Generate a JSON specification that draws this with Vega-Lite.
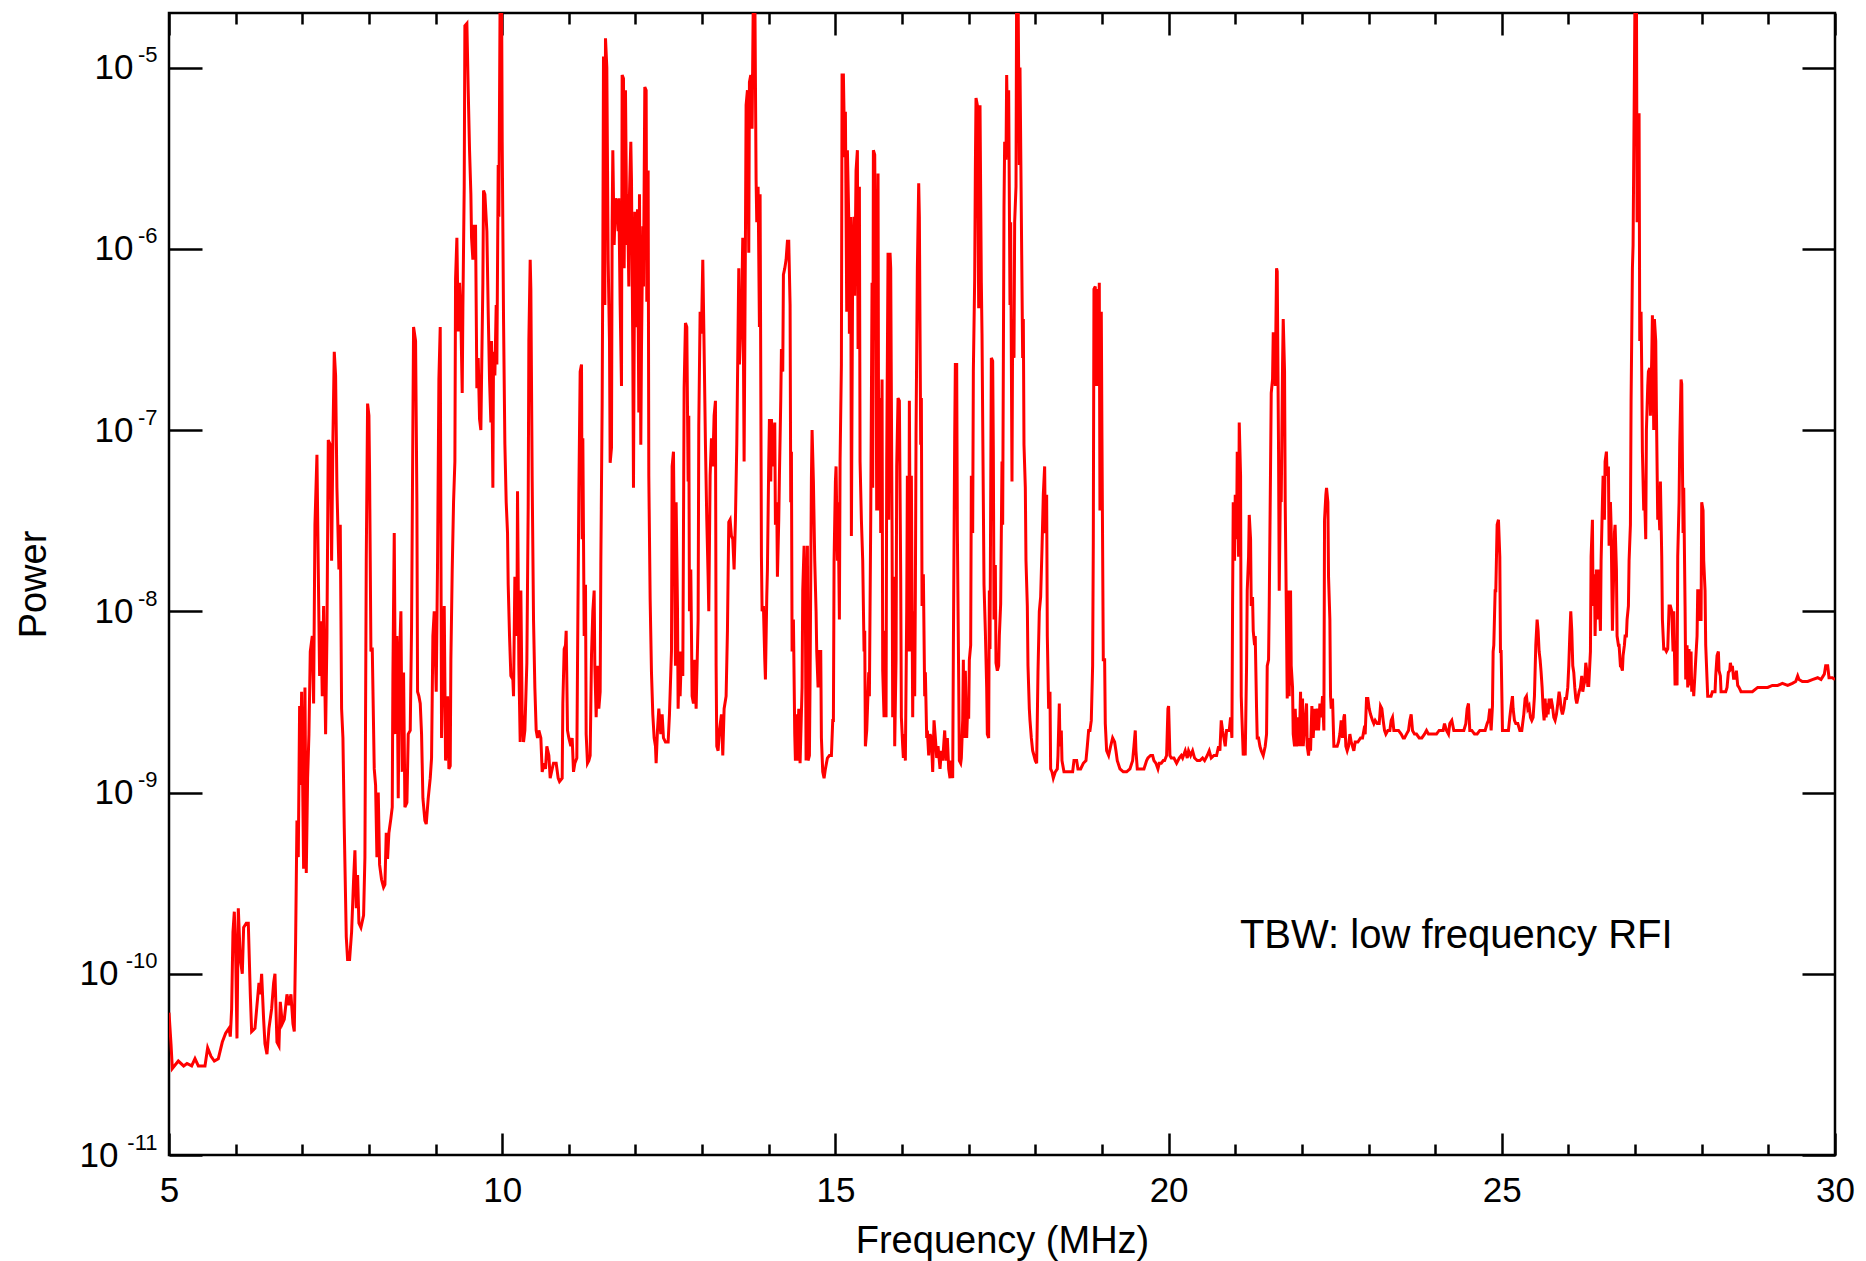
{
  "$schema": "https://vega.github.io/schema/vega-lite/v6.json",
  "autosize": {"type": "none"},
  "width": 1666,
  "height": 1142,
  "padding": {"left": 169, "top": 13, "right": 31, "bottom": 106},
  "background": "white",
  "config": {
    "view": {"stroke": "black", "strokeWidth": 2.5},
    "font": "Liberation Sans",
    "axis": {"grid": false, "domain": false, "tickColor": "black", "tickWidth": 2.5, "labelFont": "Liberation Sans", "titleFont": "Liberation Sans", "labelColor": "black", "titleColor": "black", "titleFontWeight": "normal", "labelFontSize": 35, "titleFontSize": 38}
  },
  "datasets": {
    "spectrum": [
      {"freq":5.00,"power":6.1e-11},{"freq":5.03,"power":4.1e-11},{"freq":5.05,"power":3.0e-11},{"freq":5.14,"power":3.3e-11},{"freq":5.22,"power":3.1e-11},{"freq":5.27,"power":3.2e-11},{"freq":5.34,"power":3.1e-11},{"freq":5.39,"power":3.4e-11},{"freq":5.44,"power":3.1e-11},{"freq":5.54,"power":3.1e-11},{"freq":5.58,"power":3.9e-11},{"freq":5.63,"power":3.5e-11},{"freq":5.68,"power":3.3e-11},{"freq":5.74,"power":3.4e-11},{"freq":5.80,"power":4.2e-11},{"freq":5.85,"power":4.7e-11},{"freq":5.90,"power":5.0e-11},{"freq":5.92,"power":4.5e-11},{"freq":5.94,"power":6.4e-11},{"freq":5.96,"power":1.7e-10},{"freq":5.98,"power":2.2e-10},{"freq":6.00,"power":1.3e-10},{"freq":6.02,"power":4.4e-11},{"freq":6.04,"power":2.3e-10},{"freq":6.07,"power":1.2e-10},{"freq":6.10,"power":1.0e-10},{"freq":6.12,"power":1.8e-10},{"freq":6.16,"power":1.9e-10},{"freq":6.19,"power":1.9e-10},{"freq":6.22,"power":7.7e-11},{"freq":6.24,"power":4.8e-11},{"freq":6.29,"power":5.0e-11},{"freq":6.32,"power":6.7e-11},{"freq":6.35,"power":8.9e-11},{"freq":6.37,"power":7.7e-11},{"freq":6.39,"power":1.0e-10},{"freq":6.42,"power":5.6e-11},{"freq":6.44,"power":4.1e-11},{"freq":6.47,"power":3.6e-11},{"freq":6.50,"power":5.0e-11},{"freq":6.54,"power":6.4e-11},{"freq":6.57,"power":8.9e-11},{"freq":6.59,"power":1.0e-10},{"freq":6.62,"power":4.2e-11},{"freq":6.65,"power":4.0e-11},{"freq":6.67,"power":7.0e-11},{"freq":6.70,"power":5.3e-11},{"freq":6.73,"power":5.6e-11},{"freq":6.77,"power":7.7e-11},{"freq":6.80,"power":6.7e-11},{"freq":6.83,"power":7.7e-11},{"freq":6.86,"power":5.3e-11},{"freq":6.88,"power":4.8e-11},{"freq":6.90,"power":1.5e-10},{"freq":6.92,"power":7.0e-10},{"freq":6.94,"power":4.4e-10},{"freq":6.96,"power":3.0e-9},{"freq":6.97,"power":1.1e-9},{"freq":6.99,"power":3.6e-9},{"freq":7.02,"power":3.8e-10},{"freq":7.04,"power":3.8e-9},{"freq":7.06,"power":3.6e-10},{"freq":7.08,"power":1.2e-9},{"freq":7.10,"power":2.1e-9},{"freq":7.12,"power":6.0e-9},{"freq":7.15,"power":7.3e-9},{"freq":7.17,"power":3.1e-9},{"freq":7.19,"power":3.0e-8},{"freq":7.22,"power":7.3e-8},{"freq":7.24,"power":1.7e-8},{"freq":7.26,"power":4.4e-9},{"freq":7.28,"power":8.8e-9},{"freq":7.30,"power":3.4e-9},{"freq":7.32,"power":1.07e-8},{"freq":7.35,"power":2.1e-9},{"freq":7.37,"power":7.3e-9},{"freq":7.39,"power":8.8e-8},{"freq":7.42,"power":8.3e-8},{"freq":7.44,"power":1.9e-8},{"freq":7.46,"power":9.0e-8},{"freq":7.48,"power":2.7e-7},{"freq":7.50,"power":2.0e-7},{"freq":7.52,"power":4.8e-8},{"freq":7.55,"power":1.7e-8},{"freq":7.57,"power":3.0e-8},{"freq":7.59,"power":2.9e-9},{"freq":7.61,"power":2.0e-9},{"freq":7.63,"power":6.4e-10},{"freq":7.66,"power":1.6e-10},{"freq":7.68,"power":1.2e-10},{"freq":7.71,"power":1.2e-10},{"freq":7.74,"power":1.7e-10},{"freq":7.77,"power":3.3e-10},{"freq":7.79,"power":4.8e-10},{"freq":7.81,"power":2.3e-10},{"freq":7.83,"power":3.5e-10},{"freq":7.85,"power":1.9e-10},{"freq":7.88,"power":1.8e-10},{"freq":7.92,"power":2.1e-10},{"freq":7.94,"power":4.4e-10},{"freq":7.96,"power":1.9e-8},{"freq":7.98,"power":1.4e-7},{"freq":8.00,"power":1.2e-7},{"freq":8.01,"power":5.8e-8},{"freq":8.03,"power":6.0e-9},{"freq":8.05,"power":6.3e-9},{"freq":8.08,"power":1.35e-9},{"freq":8.10,"power":1.1e-9},{"freq":8.12,"power":4.4e-10},{"freq":8.14,"power":1.0e-9},{"freq":8.16,"power":4.0e-10},{"freq":8.19,"power":3.3e-10},{"freq":8.22,"power":3.0e-10},{"freq":8.24,"power":3.1e-10},{"freq":8.26,"power":6.0e-10},{"freq":8.28,"power":4.3e-10},{"freq":8.30,"power":6.0e-10},{"freq":8.33,"power":7.2e-10},{"freq":8.35,"power":8.3e-10},{"freq":8.36,"power":4.4e-9},{"freq":8.38,"power":2.7e-8},{"freq":8.40,"power":2.1e-9},{"freq":8.42,"power":7.3e-9},{"freq":8.44,"power":9.3e-10},{"freq":8.46,"power":5.7e-9},{"freq":8.48,"power":1.0e-8},{"freq":8.50,"power":1.3e-9},{"freq":8.52,"power":4.6e-9},{"freq":8.54,"power":8.3e-10},{"freq":8.57,"power":8.8e-10},{"freq":8.59,"power":2.1e-9},{"freq":8.62,"power":2.2e-9},{"freq":8.64,"power":8.3e-9},{"freq":8.66,"power":1.1e-7},{"freq":8.67,"power":3.7e-7},{"freq":8.70,"power":3.1e-7},{"freq":8.72,"power":4.0e-8},{"freq":8.73,"power":3.6e-9},{"freq":8.75,"power":3.4e-9},{"freq":8.77,"power":3.1e-9},{"freq":8.79,"power":2.1e-9},{"freq":8.81,"power":9.3e-10},{"freq":8.84,"power":7.0e-10},{"freq":8.86,"power":6.7e-10},{"freq":8.89,"power":9.3e-10},{"freq":8.92,"power":1.2e-9},{"freq":8.94,"power":1.55e-9},{"freq":8.96,"power":7.3e-9},{"freq":8.98,"power":1.0e-8},{"freq":9.01,"power":3.6e-9},{"freq":9.03,"power":1.9e-8},{"freq":9.05,"power":1.9e-7},{"freq":9.07,"power":3.7e-7},{"freq":9.09,"power":2.0e-9},{"freq":9.11,"power":5.4e-9},{"freq":9.13,"power":1.07e-8},{"freq":9.15,"power":1.5e-9},{"freq":9.18,"power":3.4e-9},{"freq":9.20,"power":1.35e-9},{"freq":9.22,"power":1.4e-9},
      {"freq":9.23,"power":5.4e-9},{"freq":9.25,"power":1.7e-8},{"freq":9.27,"power":4.0e-8},{"freq":9.29,"power":6.7e-8},{"freq":9.30,"power":6.8e-7},{"freq":9.32,"power":1.15e-6},{"freq":9.34,"power":3.5e-7},{"freq":9.36,"power":6.5e-7},{"freq":9.38,"power":4.1e-7},{"freq":9.40,"power":1.6e-7},{"freq":9.41,"power":4.7e-7},{"freq":9.43,"power":2.2e-6},{"freq":9.44,"power":1.7e-5},{"freq":9.47,"power":1.75e-5},{"freq":9.49,"power":7.5e-6},{"freq":9.51,"power":3.5e-6},{"freq":9.53,"power":2.0e-6},{"freq":9.54,"power":1.15e-6},{"freq":9.56,"power":8.7e-7},{"freq":9.58,"power":1.33e-6},{"freq":9.60,"power":1.33e-6},{"freq":9.62,"power":1.7e-7},{"freq":9.64,"power":2.5e-7},{"freq":9.66,"power":1.15e-7},{"freq":9.68,"power":1.0e-7},{"freq":9.69,"power":1.9e-7},{"freq":9.71,"power":6.5e-7},{"freq":9.72,"power":2.1e-6},{"freq":9.74,"power":2.0e-6},{"freq":9.77,"power":1.25e-6},{"freq":9.79,"power":4.5e-7},{"freq":9.81,"power":1.9e-7},{"freq":9.83,"power":1.1e-7},{"freq":9.84,"power":3.1e-7},{"freq":9.86,"power":4.8e-8},{"freq":9.87,"power":2.7e-7},{"freq":9.89,"power":2.0e-7},{"freq":9.91,"power":4.9e-7},{"freq":9.92,"power":2.3e-7},{"freq":9.94,"power":2.9e-6},{"freq":9.95,"power":1.5e-6},{"freq":9.97,"power":3e-5},{"freq":9.99,"power":3e-5},{"freq":10.00,"power":3.9e-6},{"freq":10.02,"power":4.1e-7},{"freq":10.04,"power":8.4e-8},{"freq":10.06,"power":4.0e-8},{"freq":10.08,"power":2.7e-8},{"freq":10.09,"power":1.4e-8},{"freq":10.11,"power":7.3e-9},{"freq":10.13,"power":4.4e-9},{"freq":10.16,"power":4.2e-9},{"freq":10.17,"power":3.4e-9},{"freq":10.19,"power":1.55e-8},{"freq":10.22,"power":7.3e-9},{"freq":10.23,"power":4.6e-8},{"freq":10.25,"power":5.0e-9},{"freq":10.27,"power":1.9e-9},{"freq":10.28,"power":1.3e-8},{"freq":10.30,"power":2.7e-9},{"freq":10.32,"power":1.9e-9},{"freq":10.34,"power":2.2e-9},{"freq":10.37,"power":5.2e-9},{"freq":10.39,"power":3.8e-8},{"freq":10.40,"power":3.1e-7},{"freq":10.42,"power":8.7e-7},{"freq":10.43,"power":6.0e-7},{"freq":10.45,"power":5.2e-8},{"freq":10.47,"power":9.0e-9},{"freq":10.49,"power":3.8e-9},{"freq":10.51,"power":2.2e-9},{"freq":10.53,"power":2.0e-9},{"freq":10.55,"power":2.2e-9},{"freq":10.58,"power":2.0e-9},{"freq":10.60,"power":1.3e-9},{"freq":10.63,"power":1.45e-9},{"freq":10.65,"power":1.35e-9},{"freq":10.67,"power":1.8e-9},{"freq":10.70,"power":1.6e-9},{"freq":10.72,"power":1.2e-9},{"freq":10.75,"power":1.35e-9},{"freq":10.77,"power":1.45e-9},{"freq":10.81,"power":1.45e-9},{"freq":10.84,"power":1.2e-9},{"freq":10.86,"power":1.15e-9},{"freq":10.90,"power":1.2e-9},{"freq":10.91,"power":3.1e-9},{"freq":10.93,"power":6.2e-9},{"freq":10.95,"power":6.5e-9},{"freq":10.96,"power":7.8e-9},{"freq":10.98,"power":2.2e-9},{"freq":11.00,"power":2.0e-9},{"freq":11.03,"power":1.8e-9},{"freq":11.05,"power":2.0e-9},{"freq":11.07,"power":1.3e-9},{"freq":11.09,"power":1.45e-9},{"freq":11.12,"power":1.55e-9},{"freq":11.13,"power":5.0e-9},{"freq":11.15,"power":4.4e-8},{"freq":11.17,"power":2.1e-7},{"freq":11.19,"power":2.3e-7},{"freq":11.20,"power":2.5e-8},{"freq":11.21,"power":9.0e-8},{"freq":11.23,"power":7.3e-9},{"freq":11.25,"power":1.4e-8},{"freq":11.26,"power":2.1e-9},{"freq":11.28,"power":1.45e-9},{"freq":11.30,"power":1.5e-9},{"freq":11.32,"power":1.6e-9},{"freq":11.34,"power":5.7e-9},{"freq":11.36,"power":1.0e-8},{"freq":11.38,"power":1.3e-8},{"freq":11.39,"power":5.0e-9},{"freq":11.41,"power":2.6e-9},{"freq":11.43,"power":5.0e-9},{"freq":11.45,"power":2.9e-9},{"freq":11.47,"power":3.6e-9},{"freq":11.48,"power":1.8e-8},{"freq":11.50,"power":1.4e-7},{"freq":11.51,"power":8.7e-7},{"freq":11.52,"power":1.15e-5},{"freq":11.54,"power":4.9e-7},{"freq":11.55,"power":1.45e-5},{"freq":11.57,"power":1.0e-5},{"freq":11.59,"power":8.7e-7},{"freq":11.61,"power":3.1e-7},{"freq":11.62,"power":6.6e-8},{"freq":11.64,"power":8.0e-8},{"freq":11.65,"power":1.4e-6},{"freq":11.66,"power":3.5e-6},{"freq":11.68,"power":1.05e-6},{"freq":11.70,"power":1.9e-6},{"freq":11.72,"power":1.75e-6},{"freq":11.74,"power":1.25e-6},{"freq":11.75,"power":1.9e-6},{"freq":11.77,"power":4.9e-7},{"freq":11.79,"power":1.75e-7},{"freq":11.80,"power":9.1e-6},{"freq":11.82,"power":8.7e-6},{"freq":11.83,"power":7.8e-7},{"freq":11.85,"power":7.5e-6},{"freq":11.87,"power":1.05e-6},{"freq":11.88,"power":2.0e-6},{"freq":11.90,"power":6.2e-7},{"freq":11.91,"power":2.0e-6},{"freq":11.93,"power":3.9e-6},{"freq":11.94,"power":2.4e-6},{"freq":11.96,"power":2.7e-7},{"freq":11.97,"power":4.8e-8},{"freq":11.99,"power":1.6e-6},{"freq":12.00,"power":4.5e-7},{"freq":12.02,"power":3.7e-7},{"freq":12.03,"power":1.65e-6},{"freq":12.05,"power":1.25e-7},{"freq":12.06,"power":2.0e-6},{"freq":12.08,"power":8.3e-8},{"freq":12.09,"power":2.8e-7},{"freq":12.11,"power":1.33e-6},{"freq":12.12,"power":6.2e-7},{"freq":12.14,"power":7.8e-6},{"freq":12.16,"power":7.5e-6},{"freq":12.17,"power":5.1e-7},{"freq":12.19,"power":2.7e-6},{"freq":12.20,"power":5.6e-8},{"freq":12.22,"power":1.17e-8},{"freq":12.24,"power":4.6e-9},{"freq":12.26,"power":2.7e-9},{"freq":12.28,"power":2.0e-9},{"freq":12.30,"power":1.8e-9},{"freq":12.31,"power":1.45e-9},{"freq":12.33,"power":2.2e-9},{"freq":12.35,"power":2.9e-9},{"freq":12.38,"power":2.1e-9},{"freq":12.40,"power":2.7e-9},{"freq":12.42,"power":2.0e-9},{"freq":12.45,"power":1.9e-9},{"freq":12.49,"power":1.9e-9},{"freq":12.51,"power":2.7e-9},{"freq":12.54,"power":6.0e-9},{"freq":12.55,"power":6.3e-8},{"freq":12.57,"power":7.6e-8},{"freq":12.60,"power":5.0e-9},{"freq":12.61,"power":4.0e-8},{"freq":12.63,"power":1.07e-8},{"freq":12.64,"power":2.9e-9},{"freq":12.66,"power":6.0e-9},{"freq":12.67,"power":3.4e-9},{"freq":12.69,"power":6.0e-9},{"freq":12.71,"power":4.4e-9},{"freq":12.73,"power":1.7e-7},{"freq":12.75,"power":3.9e-7},{"freq":12.77,"power":3.7e-7},{"freq":12.79,"power":5.2e-8},{"freq":12.80,"power":1.2e-7},{"freq":12.81,"power":1.0e-8},{"freq":12.83,"power":1.7e-8},{"freq":12.85,"power":3.4e-9},{"freq":12.87,"power":3.1e-9},{"freq":12.89,"power":5.4e-9},{"freq":12.91,"power":2.9e-9},{"freq":12.94,"power":9.0e-9},{"freq":12.95,"power":1.05e-7},{"freq":12.97,"power":4.5e-7},{"freq":12.99,"power":3.4e-7},{"freq":13.01,"power":8.7e-7},{"freq":13.03,"power":2.8e-7},{"freq":13.05,"power":8.3e-8},{"freq":13.07,"power":3.2e-8},{"freq":13.09,"power":1.55e-8},{"freq":13.10,"power":1.0e-8},{"freq":13.12,"power":5.6e-8},{"freq":13.14,"power":9.0e-8},{"freq":13.16,"power":6.3e-8},{"freq":13.18,"power":1.2e-7},{"freq":13.20,"power":1.45e-7},{"freq":13.21,"power":5.0e-9},{"freq":13.22,"power":1.8e-9},{"freq":13.24,"power":1.7e-9},{"freq":13.26,"power":2.2e-9},{"freq":13.29,"power":2.7e-9},{"freq":13.31,"power":1.6e-9},{"freq":13.33,"power":2.9e-9},{"freq":13.36,"power":3.4e-9},{"freq":13.38,"power":7.8e-9},{"freq":13.40,"power":3.1e-8},{"freq":13.42,"power":3.2e-8},{"freq":13.44,"power":2.6e-8},{"freq":13.46,"power":2.5e-8},{"freq":13.48,"power":1.7e-8},{"freq":13.50,"power":3.2e-8},{"freq":13.52,"power":8.3e-8},
      {"freq":13.55,"power":7.8e-7},{"freq":13.56,"power":2.3e-7},{"freq":13.58,"power":3.7e-7},{"freq":13.59,"power":4.1e-7},{"freq":13.61,"power":1.15e-6},{"freq":13.63,"power":6.7e-8},{"freq":13.65,"power":1.15e-6},{"freq":13.66,"power":6.2e-6},{"freq":13.68,"power":7.5e-6},{"freq":13.70,"power":9.5e-7},{"freq":13.71,"power":8.3e-6},{"freq":13.73,"power":9.1e-6},{"freq":13.75,"power":4.6e-6},{"freq":13.77,"power":3e-5},{"freq":13.79,"power":3e-5},{"freq":13.81,"power":2.4e-6},{"freq":13.82,"power":1.4e-6},{"freq":13.84,"power":2.2e-6},{"freq":13.86,"power":3.7e-7},{"freq":13.87,"power":2.0e-6},{"freq":13.89,"power":2.0e-8},{"freq":13.90,"power":1.0e-8},{"freq":13.92,"power":1.07e-8},{"freq":13.94,"power":5.4e-9},{"freq":13.95,"power":4.2e-9},{"freq":13.97,"power":1.2e-8},{"freq":13.98,"power":1.7e-8},{"freq":14.00,"power":6.7e-8},{"freq":14.01,"power":1.15e-7},{"freq":14.03,"power":5.2e-8},{"freq":14.04,"power":1.15e-7},{"freq":14.07,"power":6.3e-8},{"freq":14.09,"power":1.1e-7},{"freq":14.10,"power":3.0e-8},{"freq":14.12,"power":4.0e-8},{"freq":14.13,"power":1.55e-8},{"freq":14.15,"power":3.2e-8},{"freq":14.16,"power":5.6e-8},{"freq":14.18,"power":1.45e-7},{"freq":14.19,"power":2.8e-7},{"freq":14.21,"power":2.1e-7},{"freq":14.22,"power":7.2e-7},{"freq":14.24,"power":7.8e-7},{"freq":14.26,"power":8.7e-7},{"freq":14.28,"power":1.1e-6},{"freq":14.30,"power":1.1e-6},{"freq":14.32,"power":4.9e-7},{"freq":14.33,"power":4.0e-8},{"freq":14.34,"power":7.6e-8},{"freq":14.35,"power":6.0e-9},{"freq":14.37,"power":9.0e-9},{"freq":14.39,"power":2.1e-9},{"freq":14.40,"power":1.5e-9},{"freq":14.42,"power":2.7e-9},{"freq":14.43,"power":1.5e-9},{"freq":14.45,"power":2.9e-9},{"freq":14.47,"power":1.45e-9},{"freq":14.50,"power":3.8e-9},{"freq":14.51,"power":1.3e-8},{"freq":14.53,"power":2.3e-8},{"freq":14.55,"power":1.0e-8},{"freq":14.56,"power":1.5e-9},{"freq":14.58,"power":2.3e-8},{"freq":14.59,"power":1.5e-9},{"freq":14.61,"power":1.6e-9},{"freq":14.62,"power":4.2e-9},{"freq":14.64,"power":5.4e-8},{"freq":14.65,"power":1.0e-7},{"freq":14.67,"power":5.2e-8},{"freq":14.69,"power":1.9e-8},{"freq":14.71,"power":1.0e-8},{"freq":14.72,"power":6.0e-9},{"freq":14.74,"power":3.8e-9},{"freq":14.76,"power":6.0e-9},{"freq":14.78,"power":6.0e-9},{"freq":14.79,"power":2.0e-9},{"freq":14.81,"power":1.3e-9},{"freq":14.83,"power":1.2e-9},{"freq":14.85,"power":1.35e-9},{"freq":14.88,"power":1.55e-9},{"freq":14.91,"power":1.6e-9},{"freq":14.94,"power":1.6e-9},{"freq":14.96,"power":2.5e-9},{"freq":14.97,"power":2.5e-9},{"freq":14.98,"power":1.9e-8},{"freq":15.00,"power":5.2e-8},{"freq":15.01,"power":6.3e-8},{"freq":15.03,"power":1.9e-8},{"freq":15.04,"power":4.0e-8},{"freq":15.06,"power":9.0e-9},{"freq":15.07,"power":6.7e-8},{"freq":15.09,"power":2.3e-7},{"freq":15.10,"power":9.1e-6},{"freq":15.12,"power":9.1e-6},{"freq":15.14,"power":3.2e-6},{"freq":15.15,"power":5.7e-6},{"freq":15.17,"power":4.5e-7},{"freq":15.18,"power":3.5e-6},{"freq":15.20,"power":1.5e-6},{"freq":15.21,"power":3.4e-7},{"freq":15.23,"power":1.5e-6},{"freq":15.24,"power":2.6e-8},{"freq":15.26,"power":9.5e-7},{"freq":15.28,"power":1.5e-6},{"freq":15.29,"power":5.5e-7},{"freq":15.31,"power":2.7e-6},{"freq":15.33,"power":3.5e-6},{"freq":15.34,"power":2.8e-7},{"freq":15.36,"power":2.2e-6},{"freq":15.37,"power":6.7e-8},{"freq":15.39,"power":3.2e-8},{"freq":15.41,"power":1.9e-8},{"freq":15.43,"power":6.0e-9},{"freq":15.44,"power":7.8e-9},{"freq":15.45,"power":1.8e-9},{"freq":15.47,"power":2.2e-9},{"freq":15.50,"power":4.6e-9},{"freq":15.51,"power":3.4e-9},{"freq":15.53,"power":3.2e-8},{"freq":15.55,"power":6.5e-7},{"freq":15.56,"power":4.8e-8},{"freq":15.57,"power":3.5e-6},{"freq":15.59,"power":3.3e-6},{"freq":15.61,"power":3.1e-7},{"freq":15.62,"power":3.6e-8},{"freq":15.64,"power":2.6e-6},{"freq":15.65,"power":3.6e-8},{"freq":15.67,"power":1.5e-7},{"freq":15.68,"power":2.7e-8},{"freq":15.70,"power":1.9e-7},{"freq":15.71,"power":4.7e-9},{"freq":15.73,"power":2.6e-9},{"freq":15.74,"power":7.8e-9},{"freq":15.76,"power":2.6e-9},{"freq":15.77,"power":6.7e-8},{"freq":15.79,"power":9.5e-7},{"freq":15.80,"power":3.2e-8},{"freq":15.82,"power":9.5e-7},{"freq":15.83,"power":7.8e-7},{"freq":15.85,"power":3.0e-8},{"freq":15.86,"power":2.6e-9},{"freq":15.88,"power":1.55e-8},{"freq":15.89,"power":1.8e-9},{"freq":15.91,"power":5.4e-9},{"freq":15.92,"power":6.3e-8},{"freq":15.94,"power":1.5e-7},{"freq":15.96,"power":1.45e-7},{"freq":15.98,"power":1.55e-8},{"freq":15.99,"power":2.6e-9},{"freq":16.01,"power":1.8e-9},{"freq":16.02,"power":1.55e-9},{"freq":16.04,"power":2.1e-9},{"freq":16.05,"power":1.5e-9},{"freq":16.07,"power":1.0e-8},{"freq":16.08,"power":5.6e-8},{"freq":16.10,"power":6.0e-9},{"freq":16.11,"power":1.45e-7},{"freq":16.13,"power":6.0e-9},{"freq":16.14,"power":5.6e-8},{"freq":16.16,"power":2.6e-9},{"freq":16.17,"power":1.0e-8},{"freq":16.19,"power":3.4e-9},{"freq":16.20,"power":1.3e-8},{"freq":16.21,"power":9.5e-8},{"freq":16.23,"power":7.8e-7},{"freq":16.25,"power":2.3e-6},{"freq":16.26,"power":1.5e-6},{"freq":16.28,"power":8.3e-8},{"freq":16.29,"power":1.5e-7},{"freq":16.30,"power":1.07e-8},{"freq":16.32,"power":1.6e-8},{"freq":16.34,"power":3.4e-9},{"freq":16.35,"power":4.6e-9},{"freq":16.37,"power":2.0e-9},{"freq":16.38,"power":2.2e-9},{"freq":16.40,"power":1.6e-9},{"freq":16.42,"power":2.1e-9},{"freq":16.44,"power":2.0e-9},{"freq":16.46,"power":1.3e-9},{"freq":16.48,"power":2.5e-9},{"freq":16.50,"power":2.0e-9},{"freq":16.52,"power":1.55e-9},{"freq":16.54,"power":1.8e-9},{"freq":16.57,"power":1.35e-9},{"freq":16.59,"power":1.7e-9},{"freq":16.61,"power":1.5e-9},{"freq":16.64,"power":2.2e-9},{"freq":16.66,"power":1.5e-9},{"freq":16.68,"power":2.0e-9},{"freq":16.70,"power":1.35e-9},{"freq":16.72,"power":1.2e-9},{"freq":16.74,"power":1.5e-9},{"freq":16.76,"power":1.2e-9},{"freq":16.77,"power":6.0e-9},{"freq":16.79,"power":9.0e-8},{"freq":16.80,"power":2.3e-7},{"freq":16.82,"power":2.3e-7},{"freq":16.83,"power":2.8e-8},{"freq":16.85,"power":4.2e-9},{"freq":16.86,"power":1.5e-9},{"freq":16.88,"power":1.45e-9},{"freq":16.89,"power":1.55e-9},{"freq":16.91,"power":2.5e-9},{"freq":16.92,"power":5.4e-9},{"freq":16.93,"power":2.0e-9},{"freq":16.95,"power":4.7e-9},{"freq":16.97,"power":2.0e-9},{"freq":16.98,"power":2.6e-9},{"freq":17.00,"power":2.6e-9},{"freq":17.01,"power":5.4e-9},{"freq":17.03,"power":6.5e-9},{"freq":17.04,"power":5.6e-8},{"freq":17.06,"power":2.7e-8},{"freq":17.07,"power":2.1e-7},{"freq":17.09,"power":6.8e-7},{"freq":17.10,"power":2.7e-6},{"freq":17.11,"power":6.8e-6},{"freq":17.13,"power":6.2e-6},{"freq":17.15,"power":4.7e-7},{"freq":17.16,"power":6.5e-7},{"freq":17.17,"power":6.2e-6},{"freq":17.19,"power":6.5e-7},{"freq":17.20,"power":3.4e-7},{"freq":17.22,"power":4.0e-8},{"freq":17.23,"power":1.4e-8},{"freq":17.25,"power":7.8e-9},{"freq":17.27,"power":3.8e-9},{"freq":17.28,"power":2.1e-9},{"freq":17.30,"power":2.0e-9},{"freq":17.31,"power":1.3e-8},{"freq":17.32,"power":6.2e-9},{"freq":17.34,"power":2.5e-7},{"freq":17.36,"power":2.4e-7},{"freq":17.37,"power":7.6e-8},{"freq":17.38,"power":9.0e-9},{"freq":17.40,"power":1.8e-8},{"freq":17.41,"power":5.2e-9},{"freq":17.43,"power":4.7e-9},{"freq":17.45,"power":5.0e-9},{"freq":17.46,"power":7.3e-9},{"freq":17.48,"power":1.1e-8},{"freq":17.50,"power":6.7e-8},{"freq":17.51,"power":3.0e-8},{"freq":17.53,"power":1.7e-6},{"freq":17.54,"power":3.9e-6},{"freq":17.56,"power":3.1e-6},{"freq":17.57,"power":9.1e-6},{"freq":17.59,"power":3.2e-6},{"freq":17.60,"power":7.5e-6},{"freq":17.62,"power":4.9e-7},{"freq":17.63,"power":1.4e-6},{"freq":17.65,"power":5.2e-8},{"freq":17.66,"power":4.1e-7},{"freq":17.68,"power":2.5e-7},{"freq":17.69,"power":1.4e-6},{"freq":17.71,"power":2.2e-6},{"freq":17.72,"power":3e-5},{"freq":17.74,"power":3e-5},{"freq":17.76,"power":2.9e-6},{"freq":17.77,"power":1.0e-5},
      {"freq":17.81,"power":2.5e-7},{"freq":17.82,"power":4.1e-7},{"freq":17.83,"power":8.3e-8},{"freq":17.85,"power":4.8e-8},{"freq":17.86,"power":1.9e-8},{"freq":17.88,"power":1.07e-8},{"freq":17.89,"power":5.0e-9},{"freq":17.91,"power":2.9e-9},{"freq":17.92,"power":2.5e-9},{"freq":17.94,"power":2.0e-9},{"freq":17.96,"power":1.7e-9},{"freq":17.98,"power":1.6e-9},{"freq":18.00,"power":1.5e-9},{"freq":18.02,"power":1.45e-9},{"freq":18.04,"power":4.6e-9},{"freq":18.06,"power":1.0e-8},{"freq":18.08,"power":1.2e-8},{"freq":18.10,"power":2.2e-8},{"freq":18.12,"power":4.4e-8},{"freq":18.14,"power":6.3e-8},{"freq":18.15,"power":2.7e-8},{"freq":18.17,"power":4.4e-8},{"freq":18.18,"power":7.3e-9},{"freq":18.20,"power":2.9e-9},{"freq":18.22,"power":3.6e-9},{"freq":18.23,"power":1.35e-9},{"freq":18.25,"power":1.3e-9},{"freq":18.27,"power":1.2e-9},{"freq":18.30,"power":1.3e-9},{"freq":18.33,"power":1.35e-9},{"freq":18.34,"power":1.6e-9},{"freq":18.36,"power":3.1e-9},{"freq":18.37,"power":1.8e-9},{"freq":18.39,"power":2.2e-9},{"freq":18.40,"power":1.5e-9},{"freq":18.43,"power":1.3e-9},{"freq":18.47,"power":1.3e-9},{"freq":18.52,"power":1.3e-9},{"freq":18.56,"power":1.3e-9},{"freq":18.58,"power":1.5e-9},{"freq":18.62,"power":1.5e-9},{"freq":18.64,"power":1.35e-9},{"freq":18.68,"power":1.35e-9},{"freq":18.72,"power":1.45e-9},{"freq":18.76,"power":1.5e-9},{"freq":18.78,"power":1.8e-9},{"freq":18.80,"power":2.2e-9},{"freq":18.82,"power":2.2e-9},{"freq":18.84,"power":2.5e-9},{"freq":18.86,"power":5.0e-9},{"freq":18.87,"power":2.4e-8},{"freq":18.88,"power":6.0e-7},{"freq":18.90,"power":6.2e-7},{"freq":18.91,"power":1.75e-7},{"freq":18.93,"power":6.0e-7},{"freq":18.94,"power":1.75e-7},{"freq":18.96,"power":6.5e-7},{"freq":18.97,"power":3.6e-8},{"freq":18.99,"power":4.5e-7},{"freq":19.00,"power":9.0e-8},{"freq":19.02,"power":5.4e-9},{"freq":19.04,"power":5.4e-9},{"freq":19.05,"power":2.4e-9},{"freq":19.07,"power":1.7e-9},{"freq":19.10,"power":1.6e-9},{"freq":19.13,"power":1.8e-9},{"freq":19.16,"power":2.0e-9},{"freq":19.19,"power":1.9e-9},{"freq":19.21,"power":1.7e-9},{"freq":19.23,"power":1.5e-9},{"freq":19.27,"power":1.35e-9},{"freq":19.32,"power":1.3e-9},{"freq":19.37,"power":1.3e-9},{"freq":19.42,"power":1.35e-9},{"freq":19.46,"power":1.5e-9},{"freq":19.48,"power":1.8e-9},{"freq":19.50,"power":2.2e-9},{"freq":19.51,"power":1.7e-9},{"freq":19.53,"power":1.35e-9},{"freq":19.56,"power":1.35e-9},{"freq":19.59,"power":1.35e-9},{"freq":19.63,"power":1.35e-9},{"freq":19.67,"power":1.5e-9},{"freq":19.69,"power":1.55e-9},{"freq":19.73,"power":1.6e-9},{"freq":19.76,"power":1.6e-9},{"freq":19.78,"power":1.5e-9},{"freq":19.81,"power":1.45e-9},{"freq":19.84,"power":1.35e-9},{"freq":19.86,"power":1.45e-9},{"freq":19.89,"power":1.45e-9},{"freq":19.92,"power":1.5e-9},{"freq":19.94,"power":1.5e-9},{"freq":19.97,"power":1.6e-9},{"freq":19.99,"power":2.9e-9},{"freq":20.00,"power":3.0e-9},{"freq":20.02,"power":1.6e-9},{"freq":20.04,"power":1.55e-9},{"freq":20.08,"power":1.55e-9},{"freq":20.12,"power":1.45e-9},{"freq":20.16,"power":1.55e-9},{"freq":20.19,"power":1.6e-9},{"freq":20.21,"power":1.55e-9},{"freq":20.25,"power":1.7e-9},{"freq":20.28,"power":1.55e-9},{"freq":20.30,"power":1.7e-9},{"freq":20.33,"power":1.6e-9},{"freq":20.36,"power":1.7e-9},{"freq":20.39,"power":1.55e-9},{"freq":20.43,"power":1.5e-9},{"freq":20.47,"power":1.5e-9},{"freq":20.51,"power":1.55e-9},{"freq":20.54,"power":1.5e-9},{"freq":20.58,"power":1.6e-9},{"freq":20.61,"power":1.7e-9},{"freq":20.64,"power":1.55e-9},{"freq":20.68,"power":1.6e-9},{"freq":20.72,"power":1.6e-9},{"freq":20.75,"power":1.8e-9},{"freq":20.77,"power":1.7e-9},{"freq":20.79,"power":2.5e-9},{"freq":20.81,"power":2.2e-9},{"freq":20.83,"power":2.0e-9},{"freq":20.85,"power":1.8e-9},{"freq":20.87,"power":2.2e-9},{"freq":20.89,"power":2.2e-9},{"freq":20.91,"power":2.2e-9},{"freq":20.93,"power":2.6e-9},{"freq":20.95,"power":2.0e-9},{"freq":20.96,"power":1.07e-8},{"freq":20.97,"power":4.0e-8},{"freq":20.99,"power":1.9e-8},{"freq":21.00,"power":4.4e-8},{"freq":21.02,"power":2.5e-8},{"freq":21.03,"power":7.6e-8},{"freq":21.05,"power":2.0e-8},{"freq":21.06,"power":1.1e-7},{"freq":21.08,"power":5.6e-8},{"freq":21.09,"power":3.4e-9},{"freq":21.10,"power":2.6e-9},{"freq":21.12,"power":1.6e-9},{"freq":21.14,"power":2.0e-9},{"freq":21.15,"power":1.6e-9},{"freq":21.17,"power":5.0e-9},{"freq":21.18,"power":1.3e-8},{"freq":21.20,"power":2.0e-8},{"freq":21.21,"power":3.4e-8},{"freq":21.23,"power":2.5e-8},{"freq":21.24,"power":1.07e-8},{"freq":21.26,"power":1.2e-8},{"freq":21.27,"power":7.8e-9},{"freq":21.29,"power":6.5e-9},{"freq":21.30,"power":7.3e-9},{"freq":21.32,"power":2.9e-9},{"freq":21.33,"power":2.0e-9},{"freq":21.35,"power":2.0e-9},{"freq":21.37,"power":1.8e-9},{"freq":21.39,"power":1.7e-9},{"freq":21.42,"power":1.6e-9},{"freq":21.45,"power":1.8e-9},{"freq":21.47,"power":2.1e-9},{"freq":21.48,"power":5.0e-9},{"freq":21.50,"power":5.4e-9},{"freq":21.51,"power":1.07e-8},{"freq":21.53,"power":6.3e-8},{"freq":21.54,"power":1.6e-7},{"freq":21.56,"power":1.9e-7},{"freq":21.57,"power":3.4e-7},{"freq":21.59,"power":3.4e-7},{"freq":21.60,"power":1.75e-7},{"freq":21.62,"power":7.8e-7},{"freq":21.63,"power":7.5e-7},{"freq":21.65,"power":7.6e-8},{"freq":21.66,"power":1.3e-8},{"freq":21.68,"power":5.6e-8},{"freq":21.69,"power":4.0e-8},{"freq":21.71,"power":2.3e-7},{"freq":21.72,"power":4.1e-7},{"freq":21.74,"power":2.1e-7},{"freq":21.75,"power":4.0e-8},{"freq":21.77,"power":7.8e-9},{"freq":21.78,"power":3.3e-9},{"freq":21.80,"power":1.3e-8},{"freq":21.81,"power":3.4e-9},{"freq":21.83,"power":1.3e-8},{"freq":21.84,"power":5.0e-9},{"freq":21.86,"power":3.8e-9},{"freq":21.87,"power":2.1e-9},{"freq":21.89,"power":1.8e-9},{"freq":21.90,"power":2.9e-9},{"freq":21.92,"power":1.8e-9},{"freq":21.93,"power":1.9e-9},{"freq":21.95,"power":2.6e-9},{"freq":21.96,"power":1.8e-9},{"freq":21.98,"power":3.6e-9},{"freq":21.99,"power":1.8e-9},{"freq":22.01,"power":3.3e-9},{"freq":22.02,"power":1.8e-9},
      {"freq":22.07,"power":3.1e-9},{"freq":22.08,"power":1.8e-9},{"freq":22.10,"power":1.6e-9},{"freq":22.12,"power":2.0e-9},{"freq":22.13,"power":1.7e-9},{"freq":22.15,"power":3.0e-9},{"freq":22.17,"power":2.0e-9},{"freq":22.19,"power":2.9e-9},{"freq":22.21,"power":2.2e-9},{"freq":22.23,"power":2.9e-9},{"freq":22.25,"power":2.2e-9},{"freq":22.27,"power":3.1e-9},{"freq":22.29,"power":2.6e-9},{"freq":22.31,"power":3.4e-9},{"freq":22.33,"power":2.2e-9},{"freq":22.34,"power":3.2e-8},{"freq":22.36,"power":4.4e-8},{"freq":22.37,"power":4.8e-8},{"freq":22.39,"power":4.0e-8},{"freq":22.40,"power":1.55e-8},{"freq":22.42,"power":9.0e-9},{"freq":22.43,"power":3.4e-9},{"freq":22.44,"power":2.9e-9},{"freq":22.46,"power":3.3e-9},{"freq":22.48,"power":1.8e-9},{"freq":22.50,"power":1.8e-9},{"freq":22.53,"power":1.8e-9},{"freq":22.55,"power":1.9e-9},{"freq":22.57,"power":2.1e-9},{"freq":22.59,"power":2.5e-9},{"freq":22.61,"power":2.0e-9},{"freq":22.63,"power":2.6e-9},{"freq":22.64,"power":2.7e-9},{"freq":22.66,"power":1.8e-9},{"freq":22.68,"power":1.7e-9},{"freq":22.70,"power":1.8e-9},{"freq":22.72,"power":2.1e-9},{"freq":22.74,"power":1.9e-9},{"freq":22.76,"power":1.8e-9},{"freq":22.78,"power":1.7e-9},{"freq":22.80,"power":1.9e-9},{"freq":22.84,"power":1.9e-9},{"freq":22.88,"power":2.0e-9},{"freq":22.91,"power":2.0e-9},{"freq":22.93,"power":2.2e-9},{"freq":22.95,"power":2.1e-9},{"freq":22.97,"power":3.3e-9},{"freq":22.99,"power":3.3e-9},{"freq":23.01,"power":2.9e-9},{"freq":23.03,"power":2.7e-9},{"freq":23.06,"power":2.5e-9},{"freq":23.08,"power":2.4e-9},{"freq":23.10,"power":2.5e-9},{"freq":23.13,"power":2.4e-9},{"freq":23.16,"power":2.4e-9},{"freq":23.18,"power":3.0e-9},{"freq":23.20,"power":2.9e-9},{"freq":23.22,"power":2.5e-9},{"freq":23.24,"power":2.2e-9},{"freq":23.26,"power":2.1e-9},{"freq":23.29,"power":2.2e-9},{"freq":23.32,"power":2.2e-9},{"freq":23.34,"power":2.5e-9},{"freq":23.36,"power":2.6e-9},{"freq":23.38,"power":2.2e-9},{"freq":23.40,"power":2.2e-9},{"freq":23.42,"power":2.2e-9},{"freq":23.45,"power":2.2e-9},{"freq":23.49,"power":2.1e-9},{"freq":23.52,"power":2.0e-9},{"freq":23.54,"power":2.0e-9},{"freq":23.57,"power":2.1e-9},{"freq":23.60,"power":2.2e-9},{"freq":23.62,"power":2.5e-9},{"freq":23.64,"power":2.7e-9},{"freq":23.66,"power":2.2e-9},{"freq":23.69,"power":2.1e-9},{"freq":23.72,"power":2.1e-9},{"freq":23.76,"power":2.0e-9},{"freq":23.80,"power":2.0e-9},{"freq":23.84,"power":2.1e-9},{"freq":23.87,"power":2.2e-9},{"freq":23.90,"power":2.1e-9},{"freq":23.94,"power":2.1e-9},{"freq":23.98,"power":2.1e-9},{"freq":24.02,"power":2.1e-9},{"freq":24.06,"power":2.2e-9},{"freq":24.09,"power":2.2e-9},{"freq":24.12,"power":2.2e-9},{"freq":24.14,"power":2.4e-9},{"freq":24.17,"power":2.2e-9},{"freq":24.20,"power":2.1e-9},{"freq":24.22,"power":2.4e-9},{"freq":24.25,"power":2.5e-9},{"freq":24.28,"power":2.2e-9},{"freq":24.31,"power":2.2e-9},{"freq":24.34,"power":2.2e-9},{"freq":24.37,"power":2.2e-9},{"freq":24.40,"power":2.2e-9},{"freq":24.43,"power":2.2e-9},{"freq":24.46,"power":2.4e-9},{"freq":24.48,"power":2.9e-9},{"freq":24.50,"power":3.1e-9},{"freq":24.51,"power":2.6e-9},{"freq":24.52,"power":2.2e-9},{"freq":24.55,"power":2.2e-9},{"freq":24.59,"power":2.1e-9},{"freq":24.63,"power":2.1e-9},{"freq":24.67,"power":2.2e-9},{"freq":24.71,"power":2.2e-9},{"freq":24.75,"power":2.2e-9},{"freq":24.78,"power":2.4e-9},{"freq":24.80,"power":2.5e-9},{"freq":24.82,"power":2.9e-9},{"freq":24.84,"power":2.2e-9},{"freq":24.86,"power":3.0e-9},{"freq":24.87,"power":6.0e-9},{"freq":24.88,"power":6.5e-9},{"freq":24.90,"power":1.3e-8},{"freq":24.91,"power":1.3e-8},{"freq":24.93,"power":3.0e-8},{"freq":24.94,"power":3.1e-8},{"freq":24.95,"power":3.2e-8},{"freq":24.97,"power":2.0e-8},{"freq":24.98,"power":6.0e-9},{"freq":24.99,"power":6.0e-9},{"freq":25.01,"power":2.2e-9},{"freq":25.04,"power":2.2e-9},{"freq":25.07,"power":2.2e-9},{"freq":25.10,"power":2.2e-9},{"freq":25.12,"power":2.6e-9},{"freq":25.14,"power":3.0e-9},{"freq":25.16,"power":3.4e-9},{"freq":25.17,"power":2.9e-9},{"freq":25.19,"power":2.5e-9},{"freq":25.21,"power":2.4e-9},{"freq":25.24,"power":2.4e-9},{"freq":25.27,"power":2.2e-9},{"freq":25.30,"power":2.2e-9},{"freq":25.33,"power":2.7e-9},{"freq":25.35,"power":3.3e-9},{"freq":25.37,"power":3.4e-9},{"freq":25.39,"power":2.9e-9},{"freq":25.41,"power":3.0e-9},{"freq":25.43,"power":2.6e-9},{"freq":25.45,"power":2.5e-9},{"freq":25.47,"power":2.6e-9},{"freq":25.49,"power":3.4e-9},{"freq":25.51,"power":6.5e-9},{"freq":25.53,"power":9.0e-9},{"freq":25.545,"power":7.8e-9},{"freq":25.56,"power":6.0e-9},{"freq":25.575,"power":5.4e-9},{"freq":25.59,"power":4.6e-9},{"freq":25.605,"power":3.8e-9},{"freq":25.62,"power":2.9e-9},{"freq":25.635,"power":2.5e-9},{"freq":25.65,"power":3.3e-9},{"freq":25.665,"power":2.6e-9},{"freq":25.68,"power":3.1e-9},{"freq":25.695,"power":2.7e-9},{"freq":25.71,"power":3.3e-9},{"freq":25.725,"power":2.9e-9},{"freq":25.74,"power":3.3e-9},{"freq":25.76,"power":3.0e-9},{"freq":25.78,"power":2.6e-9},{"freq":25.80,"power":2.5e-9},{"freq":25.82,"power":2.7e-9},{"freq":25.84,"power":3.1e-9},{"freq":25.86,"power":3.6e-9},{"freq":25.875,"power":3.3e-9},{"freq":25.89,"power":2.9e-9},{"freq":25.91,"power":2.7e-9},{"freq":25.93,"power":2.9e-9},{"freq":25.95,"power":3.3e-9},{"freq":25.97,"power":3.3e-9},{"freq":25.99,"power":3.8e-9},{"freq":26.005,"power":5.0e-9},{"freq":26.02,"power":7.3e-9},{"freq":26.035,"power":1.0e-8},{"freq":26.05,"power":7.8e-9},{"freq":26.065,"power":5.0e-9},{"freq":26.08,"power":4.6e-9},{"freq":26.095,"power":3.8e-9},{"freq":26.11,"power":3.3e-9},{"freq":26.125,"power":3.1e-9},{"freq":26.14,"power":3.3e-9},{"freq":26.16,"power":3.6e-9},{"freq":26.18,"power":3.8e-9},{"freq":26.20,"power":4.4e-9},{"freq":26.215,"power":3.6e-9},{"freq":26.23,"power":3.9e-9},{"freq":26.245,"power":4.1e-9},{"freq":26.26,"power":5.2e-9},{"freq":26.275,"power":4.7e-9},{"freq":26.29,"power":3.9e-9},{"freq":26.305,"power":3.9e-9},
      {"freq":26.33,"power":6.0e-9},{"freq":26.34,"power":2.0e-8},{"freq":26.36,"power":3.2e-8},{"freq":26.37,"power":1.07e-8},{"freq":26.39,"power":1.6e-8},{"freq":26.40,"power":7.3e-9},{"freq":26.42,"power":1.7e-8},{"freq":26.43,"power":9.0e-9},{"freq":26.45,"power":1.7e-8},{"freq":26.46,"power":1.3e-8},{"freq":26.48,"power":7.8e-9},{"freq":26.49,"power":1.9e-8},{"freq":26.51,"power":4.0e-8},{"freq":26.52,"power":5.6e-8},{"freq":26.54,"power":3.2e-8},{"freq":26.55,"power":6.7e-8},{"freq":26.57,"power":7.6e-8},{"freq":26.58,"power":5.6e-8},{"freq":26.60,"power":6.3e-8},{"freq":26.61,"power":2.3e-8},{"freq":26.63,"power":4.0e-8},{"freq":26.64,"power":3.0e-8},{"freq":26.66,"power":7.8e-9},{"freq":26.68,"power":1.7e-8},{"freq":26.69,"power":2.7e-8},{"freq":26.70,"power":3.0e-8},{"freq":26.72,"power":1.7e-8},{"freq":26.73,"power":7.3e-9},{"freq":26.75,"power":6.5e-9},{"freq":26.76,"power":6.5e-9},{"freq":26.78,"power":5.0e-9},{"freq":26.79,"power":5.0e-9},{"freq":26.81,"power":4.7e-9},{"freq":26.82,"power":5.7e-9},{"freq":26.84,"power":6.5e-9},{"freq":26.85,"power":7.3e-9},{"freq":26.87,"power":7.3e-9},{"freq":26.88,"power":9.0e-9},{"freq":26.90,"power":1.07e-8},{"freq":26.91,"power":1.9e-8},{"freq":26.93,"power":3.0e-8},{"freq":26.94,"power":1.45e-7},{"freq":26.96,"power":7.8e-7},{"freq":26.97,"power":1.05e-6},{"freq":26.99,"power":9.1e-6},{"freq":27.00,"power":3e-5},{"freq":27.02,"power":3e-5},{"freq":27.03,"power":1.4e-6},{"freq":27.05,"power":5.1e-6},{"freq":27.06,"power":5.6e-6},{"freq":27.07,"power":3.1e-7},{"freq":27.09,"power":4.5e-7},{"freq":27.10,"power":2.1e-7},{"freq":27.11,"power":7.6e-8},{"freq":27.13,"power":3.6e-8},{"freq":27.14,"power":4.8e-8},{"freq":27.16,"power":2.5e-8},{"freq":27.17,"power":1.0e-7},{"freq":27.19,"power":1.75e-7},{"freq":27.20,"power":2.1e-7},{"freq":27.22,"power":2.2e-7},{"freq":27.23,"power":1.2e-7},{"freq":27.25,"power":2.5e-7},{"freq":27.26,"power":4.3e-7},{"freq":27.28,"power":1.0e-7},{"freq":27.29,"power":4.1e-7},{"freq":27.31,"power":3.1e-7},{"freq":27.32,"power":1.3e-7},{"freq":27.34,"power":3.2e-8},{"freq":27.35,"power":4.4e-8},{"freq":27.37,"power":2.8e-8},{"freq":27.38,"power":5.2e-8},{"freq":27.40,"power":2.0e-8},{"freq":27.41,"power":9.0e-9},{"freq":27.43,"power":6.2e-9},{"freq":27.45,"power":6.2e-9},{"freq":27.47,"power":6.0e-9},{"freq":27.49,"power":6.2e-9},{"freq":27.51,"power":1.07e-8},{"freq":27.53,"power":1.07e-8},{"freq":27.55,"power":1.0e-8},{"freq":27.57,"power":6.0e-9},{"freq":27.58,"power":1.0e-8},{"freq":27.60,"power":3.9e-9},{"freq":27.61,"power":6.0e-9},{"freq":27.63,"power":3.9e-9},{"freq":27.64,"power":2.0e-8},{"freq":27.66,"power":4.0e-8},{"freq":27.67,"power":8.3e-8},{"freq":27.69,"power":1.9e-7},{"freq":27.70,"power":1.8e-7},{"freq":27.72,"power":2.7e-8},{"freq":27.73,"power":4.8e-8},{"freq":27.75,"power":1.07e-8},{"freq":27.76,"power":4.2e-9},{"freq":27.78,"power":6.5e-9},{"freq":27.79,"power":3.8e-9},{"freq":27.81,"power":6.2e-9},{"freq":27.82,"power":3.9e-9},{"freq":27.84,"power":6.0e-9},{"freq":27.85,"power":3.6e-9},{"freq":27.87,"power":4.2e-9},{"freq":27.88,"power":3.4e-9},{"freq":27.90,"power":4.6e-9},{"freq":27.91,"power":5.4e-9},{"freq":27.93,"power":7.3e-9},{"freq":27.94,"power":1.3e-8},{"freq":27.96,"power":1.3e-8},{"freq":27.97,"power":9.0e-9},{"freq":27.99,"power":9.0e-9},{"freq":28.00,"power":4.0e-8},{"freq":28.02,"power":3.6e-8},{"freq":28.03,"power":1.9e-8},{"freq":28.05,"power":1.3e-8},{"freq":28.06,"power":6.5e-9},{"freq":28.08,"power":4.2e-9},{"freq":28.09,"power":3.4e-9},{"freq":28.11,"power":3.4e-9},{"freq":28.14,"power":3.4e-9},{"freq":28.16,"power":3.6e-9},{"freq":28.20,"power":3.6e-9},{"freq":28.21,"power":4.4e-9},{"freq":28.23,"power":5.7e-9},{"freq":28.25,"power":6.0e-9},{"freq":28.26,"power":4.7e-9},{"freq":28.28,"power":4.4e-9},{"freq":28.29,"power":3.6e-9},{"freq":28.31,"power":3.6e-9},{"freq":28.34,"power":3.6e-9},{"freq":28.36,"power":3.6e-9},{"freq":28.38,"power":3.8e-9},{"freq":28.40,"power":4.6e-9},{"freq":28.42,"power":4.7e-9},{"freq":28.43,"power":5.2e-9},{"freq":28.45,"power":4.7e-9},{"freq":28.46,"power":5.0e-9},{"freq":28.48,"power":4.2e-9},{"freq":28.49,"power":4.6e-9},{"freq":28.51,"power":4.2e-9},{"freq":28.52,"power":4.7e-9},{"freq":28.54,"power":3.9e-9},{"freq":28.56,"power":3.8e-9},{"freq":28.59,"power":3.6e-9},{"freq":28.62,"power":3.6e-9},{"freq":28.69,"power":3.6e-9},{"freq":28.76,"power":3.6e-9},{"freq":28.84,"power":3.8e-9},{"freq":28.91,"power":3.8e-9},{"freq":28.99,"power":3.8e-9},{"freq":29.06,"power":3.9e-9},{"freq":29.14,"power":3.9e-9},{"freq":29.21,"power":4.0e-9},{"freq":29.29,"power":3.9e-9},{"freq":29.36,"power":4.0e-9},{"freq":29.41,"power":4.1e-9},{"freq":29.44,"power":4.4e-9},{"freq":29.46,"power":4.2e-9},{"freq":29.51,"power":4.1e-9},{"freq":29.59,"power":4.1e-9},{"freq":29.66,"power":4.2e-9},{"freq":29.74,"power":4.3e-9},{"freq":29.79,"power":4.2e-9},{"freq":29.84,"power":4.5e-9},{"freq":29.86,"power":5.0e-9},{"freq":29.89,"power":5.0e-9},{"freq":29.91,"power":4.3e-9},{"freq":29.96,"power":4.3e-9},{"freq":30.00,"power":4.2e-9}
    ]
  },
  "layer": [
    {
      "data": {"name": "spectrum"},
      "mark": {"type": "line", "opacity": 0},
      "encoding": {
        "x": {"field": "freq", "type": "quantitative", "scale": {"domain": [5, 30], "nice": false, "zero": false},
          "axis": {"orient": "top", "values": [5,6,7,8,9,10,11,12,13,14,15,16,17,18,19,20,21,22,23,24,25,26,27,28,29,30], "tickSize": {"condition": {"test": "datum.value % 5 === 0", "value": -22}, "value": -11}, "labels": false, "title": null}},
        "y": {"field": "power", "type": "quantitative", "scale": {"type": "log", "domain": [1e-11, 2e-5], "nice": false},
          "axis": {"orient": "left", "values": [1e-11,1e-10,1e-9,1e-8,1e-7,1e-6,1e-5], "ticks": false, "labelExpr": "'-' + round(-log(datum.value)/LN10)", "labelFontSize": 22, "labelAlign": "right", "labelPadding": 12, "labelOffset": -13, "title": null}}
      }
    },
    {
      "data": {"name": "spectrum"},
      "mark": {"type": "line", "opacity": 0},
      "encoding": {
        "x": {"field": "freq", "type": "quantitative", "scale": {"domain": [5, 30], "nice": false, "zero": false}, "axis": null},
        "y": {"field": "power", "type": "quantitative", "scale": {"type": "log", "domain": [1e-11, 2e-5], "nice": false},
          "axis": {"orient": "right", "values": [1e-11,1e-10,1e-9,1e-8,1e-7,1e-6,1e-5], "tickSize": -33, "labels": false, "title": null}}
      }
    },
    {
      "data": {"values": [{"freq": 21.07, "power": 1.38e-10, "note": "TBW: low frequency RFI"}]},
      "mark": {"type": "text", "align": "left", "baseline": "alphabetic", "fontSize": 40, "font": "Liberation Sans", "color": "black"},
      "encoding": {
        "x": {"field": "freq", "type": "quantitative", "scale": {"domain": [5, 30], "nice": false, "zero": false}, "axis": null},
        "y": {"field": "power", "type": "quantitative", "scale": {"type": "log", "domain": [1e-11, 2e-5], "nice": false}, "axis": null},
        "text": {"field": "note"}
      }
    },
    {
      "data": {"name": "spectrum"},
      "mark": {"type": "line", "color": "#ff0000", "strokeWidth": 3, "clip": true},
      "encoding": {
        "x": {"field": "freq", "type": "quantitative", "scale": {"domain": [5, 30], "nice": false, "zero": false},
          "axis": {"orient": "bottom", "values": [5,6,7,8,9,10,11,12,13,14,15,16,17,18,19,20,21,22,23,24,25,26,27,28,29,30], "tickSize": {"condition": {"test": "datum.value % 5 === 0", "value": -22}, "value": -11}, "labelExpr": "datum.value % 5 === 0 ? datum.label : ''", "labelPadding": 40, "labelFlush": false, "labelOverlap": false, "title": "Frequency (MHz)", "titlePadding": 3}},
        "y": {"field": "power", "type": "quantitative", "scale": {"type": "log", "domain": [1e-11, 2e-5], "nice": false},
          "axis": {"orient": "left", "values": [1e-11,1e-10,1e-9,1e-8,1e-7,1e-6,1e-5], "tickSize": -33, "labelExpr": "'10'", "labelPadding": {"condition": {"test": "datum.value < 5e-10", "value": 84}, "value": 69}, "labelOverlap": false, "title": "Power", "titlePadding": 26}}
      }
    }
  ],
  "resolve": {"axis": {"x": "independent", "y": "independent"}}
}
